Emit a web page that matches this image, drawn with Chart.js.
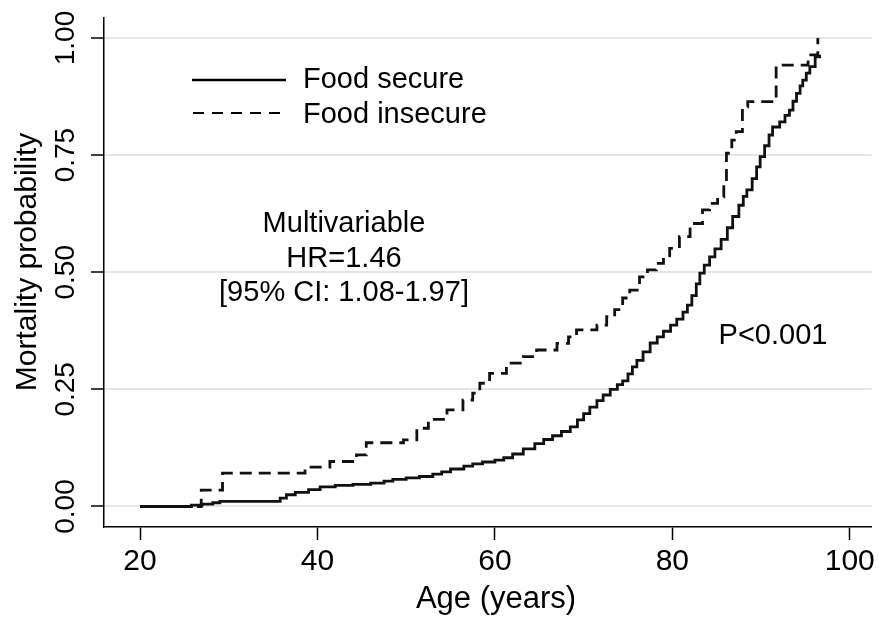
<!DOCTYPE html>
<html>
<head>
<meta charset="utf-8">
<script src="https://cdn.jsdelivr.net/npm/chart.js@4.4.1/dist/chart.umd.min.js"></script>
<style>
  html, body { margin: 0; padding: 0; background: #fff; }
  #wrap { width: 879px; height: 621px; }
</style>
</head>
<body>
<div id="wrap"><canvas id="km" width="879" height="621"></canvas></div>
<script>
// cumulative mortality (1 - KM)
const secureAge = [20, 25.8, 27.0, 28.2, 29.0, 35.8, 36.5, 37.5, 39.0, 40.3, 42.0, 44.0, 46.0, 47.5, 48.5, 50.0,
  51.5, 53.0, 54.0, 55.0, 56.5, 57.5, 58.6, 60.0, 61.0, 62.0, 63.2, 64.5, 65.5, 66.5, 67.5, 68.5, 69.3, 70.0,
  70.7, 71.5, 72.2, 73.0, 73.8, 74.4, 75.0, 75.5, 76.0, 76.7, 77.5, 78.3, 79.0, 79.8, 80.5, 81.2, 81.7, 82.2,
  82.7, 83.1, 83.6, 84.2, 84.8, 85.5, 86.2, 86.8, 87.5, 88.0, 88.4, 89.0, 89.5, 89.9, 90.4, 90.9, 91.3, 92.1,
  92.7, 93.2, 93.6, 94.0, 94.4, 94.7, 95.1, 95.5, 96.1, 96.6];
const secureProb = [0, 0.003, 0.005, 0.008, 0.011, 0.018, 0.025, 0.030, 0.036, 0.042, 0.045, 0.047, 0.050, 0.054, 0.058, 0.061,
  0.064, 0.069, 0.074, 0.080, 0.086, 0.091, 0.095, 0.099, 0.104, 0.112, 0.123, 0.134, 0.143, 0.151, 0.160, 0.170, 0.185, 0.198,
  0.212, 0.226, 0.238, 0.250, 0.260, 0.268, 0.283, 0.298, 0.312, 0.330, 0.349, 0.362, 0.374, 0.387, 0.400, 0.415, 0.430, 0.450,
  0.475, 0.498, 0.515, 0.533, 0.550, 0.570, 0.595, 0.619, 0.643, 0.662, 0.676, 0.700, 0.725, 0.747, 0.770, 0.793, 0.810, 0.821,
  0.835, 0.846, 0.865, 0.882, 0.898, 0.910, 0.925, 0.939, 0.960, 0.964];

const insecureAge = [20, 26.9, 29.3, 38.6, 41.4, 44.4, 45.5, 49.7, 51.2, 52.5, 54.6, 56.4, 57.5, 58.3, 59.4, 61.3, 63.2,
  64.7, 67.0, 68.3, 69.2, 71.5, 72.6, 73.5, 74.4, 75.2, 76.3, 77.2, 78.2, 79.0, 79.7, 80.8, 82.0, 83.4, 84.2, 85.1,
  85.8, 86.1, 86.7, 87.2, 87.9, 88.5, 91.7, 95.3, 96.4];
const insecureProb = [0, 0.035, 0.071, 0.084, 0.096, 0.110, 0.136, 0.142, 0.167, 0.186, 0.206, 0.227, 0.242, 0.263, 0.284, 0.306, 0.320,
  0.334, 0.348, 0.362, 0.377, 0.387, 0.405, 0.420, 0.445, 0.462, 0.490, 0.505, 0.519, 0.535, 0.551, 0.576, 0.604, 0.633, 0.647, 0.661,
  0.690, 0.754, 0.782, 0.800, 0.853, 0.864, 0.942, 0.964, 1.0];

const xTicks = [20, 40, 60, 80, 100];
const yTicks = [0, 0.25, 0.5, 0.75, 1];
const seriesNames = ['Food secure', 'Food insecure'];
const noteLines = ['Multivariable', 'HR=1.46', '[95% CI: 1.08-1.97]'];
const pText = 'P<0.001';
const xTitle = 'Age (years)';
const yTitle = 'Mortality probability';

const FONT = '"Liberation Sans", Arial, Helvetica, sans-serif';
Chart.defaults.font.family = FONT;
Chart.defaults.color = '#000';

const toPoints = (xs, ys) => xs.map((x, i) => ({ x: x, y: ys[i] }));

// legend, notes and axis titles drawn straight onto the canvas
const overlay = {
  id: 'overlay',
  afterDraw(chart) {
    const ctx = chart.ctx;
    ctx.save();
    ctx.fillStyle = '#000';
    ctx.strokeStyle = '#000';

    // legend
    ctx.lineWidth = 2.5;
    ctx.beginPath();
    ctx.moveTo(192, 80); ctx.lineTo(286, 80);
    ctx.stroke();
    ctx.setLineDash([11, 8]);
    ctx.lineWidth = 1.8;
    ctx.beginPath();
    ctx.moveTo(193, 113); ctx.lineTo(286, 113);
    ctx.stroke();
    ctx.setLineDash([]);
    ctx.font = '29px ' + FONT;
    ctx.textAlign = 'left';
    ctx.textBaseline = 'alphabetic';
    ctx.fillText(seriesNames[0], 303, 88);
    ctx.fillText(seriesNames[1], 303, 123);

    // model note
    ctx.textAlign = 'center';
    ctx.fillText(noteLines[0], 344, 232);
    ctx.fillText(noteLines[1], 344, 267);
    ctx.fillText(noteLines[2], 344, 301);
    ctx.fillText(pText, 773, 344);

    // axis titles
    ctx.font = '31px ' + FONT;
    ctx.fillText(xTitle, 496, 608);
    ctx.save();
    ctx.translate(36, 262);
    ctx.rotate(-Math.PI / 2);
    ctx.font = '30px ' + FONT;
    ctx.fillText(yTitle, 0, 0);
    ctx.restore();

    ctx.restore();
  }
};

new Chart(document.getElementById('km'), {
  type: 'line',
  data: {
    datasets: [
      {
        label: seriesNames[0],
        data: toPoints(secureAge, secureProb),
        stepped: true,
        borderColor: '#111',
        borderWidth: 2.8,
        pointRadius: 0,
        fill: false
      },
      {
        label: seriesNames[1],
        data: toPoints(insecureAge, insecureProb),
        stepped: true,
        borderColor: '#111',
        borderWidth: 2.8,
        borderDash: [12, 7],
        pointRadius: 0,
        fill: false
      }
    ]
  },
  options: {
    responsive: false,
    animation: false,
    layout: { padding: { top: 18, right: 7, left: 0, bottom: 0 } },
    plugins: {
      legend: { display: false },
      tooltip: { enabled: false }
    },
    scales: {
      x: {
        type: 'linear',
        position: 'bottom',
        bounds: 'data',
        min: 15.94,
        max: 102.48,
        afterBuildTicks: (axis) => { axis.ticks = xTicks.map(v => ({ value: v })); },
        afterFit: (axis) => { axis.height = 94; },
        border: { display: true, color: '#000', width: 1.5 },
        grid: {
          drawOnChartArea: false,
          drawTicks: true,
          tickLength: 13,
          tickColor: '#000',
          tickWidth: 1.5
        },
        ticks: {
          autoSkip: false,
          maxRotation: 0,
          padding: 4,
          font: { size: 30 },
          color: '#000'
        }
      },
      y: {
        type: 'linear',
        position: 'left',
        bounds: 'data',
        min: -0.0438,
        max: 1.0427,
        afterBuildTicks: (axis) => { axis.ticks = yTicks.map(v => ({ value: v })); },
        afterFit: (axis) => { axis.width = 104; },
        border: { display: true, color: '#000', width: 1.5 },
        grid: {
          color: '#e6e6e6',
          lineWidth: 2,
          drawTicks: true,
          tickLength: 13,
          tickColor: '#000',
          tickWidth: 1.5
        },
        ticks: {
          autoSkip: false,
          minRotation: 90,
          maxRotation: 90,
          crossAlign: 'center',
          padding: -3,
          font: { size: 28 },
          color: '#000',
          callback: (v) => v.toFixed(2)
        }
      }
    }
  },
  plugins: [overlay]
});
</script>
</body>
</html>
